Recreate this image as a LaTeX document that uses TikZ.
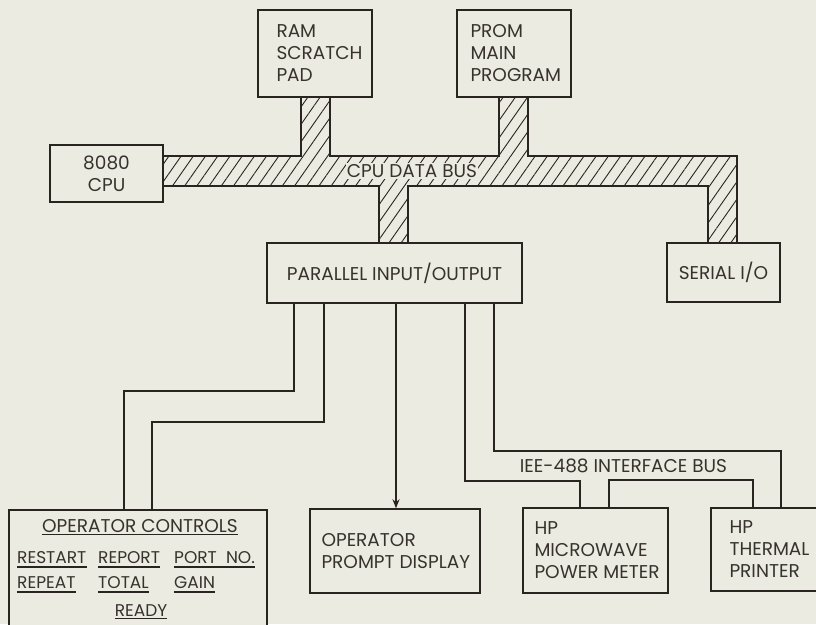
\documentclass[tikz,border=0pt]{standalone}
\usepackage{fontspec}
\setmainfont{Poppins}
\usetikzlibrary{patterns.meta,arrows.meta}
\definecolor{ink}{RGB}{42,36,32}
\definecolor{paper}{RGB}{236,235,225}
\definecolor{txt}{RGB}{55,50,45}
\newcommand\ulword[4]{%
  \node[lbl,sml,anchor=base west] (#1) at (#2,#3) {#4};
  \draw[ulline] ([yshift=-4pt]#1.base west) -- ([yshift=-4pt]#1.base east);}
\newcommand\ulcword[5]{%
  \node[lbl,#5,anchor=base] (#1) at (#2,#3) {#4};
  \draw[ulline] ([yshift=-2.5pt]#1.base west) -- ([yshift=-2.5pt]#1.base east);}
\begin{document}
\begin{tikzpicture}[x=1pt,y=-1pt,
  lbl/.style={text=txt, font=\fontsize{18.5}{22}\selectfont, inner sep=0pt},
  sml/.style={font=\fontsize{17}{22}\selectfont},
  inbox/.style={lbl, align=left, anchor=west},
  box/.style={draw=ink, line width=1.4pt, fill=paper, inner sep=0pt, text=txt,
              font=\fontsize{18.5}{22}\selectfont},
  wire/.style={draw=ink, line width=1.5pt},
  ulline/.style={draw=ink, line width=1.1pt},
  busline/.style={draw=ink, line width=1.8pt, line join=miter},
  hatch/.style={pattern={Lines[angle=55,distance=10pt,line width=0.9pt]}, pattern color=ink},
 ]
\fill[paper] (0,0) rectangle (816,624);
\useasboundingbox (0,0) rectangle (816,624);

% CPU data bus (hatched)
\path[hatch] (163,156) -- (301,156) -- (301,97) -- (330,97) -- (330,156)
  -- (499,156) -- (499,97) -- (528,97) -- (528,156) -- (737,156) -- (737,243)
  -- (708,243) -- (708,186) -- (408,186) -- (408,243) -- (379,243) -- (379,186)
  -- (163,186) -- cycle;
\draw[busline] (163,156) -- (301,156) -- (301,97);
\draw[busline] (330,97) -- (330,156) -- (499,156) -- (499,97);
\draw[busline] (528,97) -- (528,156) -- (737,156) -- (737,243);
\draw[busline] (708,243) -- (708,186) -- (408,186) -- (408,243);
\draw[busline] (379,243) -- (379,186) -- (163,186);
\node[lbl, fill=paper, inner sep=1pt] (busl) at (412,171) {CPU DATA BUS};

% boxes
\node[box, minimum width=114pt, minimum height=87pt] (ram) at (315,53.5) {};
\node[inbox] (ramt) at ([xshift=19pt]ram.west) {RAM\\SCRATCH\\PAD};
\node[box, minimum width=114pt, minimum height=87pt] (prom) at (514,53.5) {};
\node[inbox] (promt) at ([xshift=14pt]prom.west) {PROM\\MAIN\\PROGRAM};
\node[box, minimum width=113pt, minimum height=57pt, align=center]
  (cpu) at (106.5,173.5) {8080\\CPU};
\node[box, minimum width=255pt, minimum height=60pt]
  (pio) at (394.5,273) {PARALLEL INPUT/OUTPUT};
\node[box, minimum width=113pt, minimum height=59pt]
  (serial) at (723.5,272.5) {SERIAL I/O};
\node[box, minimum width=258pt, minimum height=140pt] (oc) at (138,580) {};
\node[box, minimum width=170pt, minimum height=84pt] (prompt) at (395,551) {};
\node[inbox] (promptt) at ([xshift=12pt]prompt.west) {OPERATOR\\PROMPT DISPLAY};
\node[box, minimum width=145pt, minimum height=85pt] (mw) at (595.5,550.5) {};
\node[inbox] (mwt) at ([xshift=12pt]mw.west) {HP\\MICROWAVE\\POWER METER};
\node[box, minimum width=129pt, minimum height=83pt] (thermal) at (775.5,549.5) {};
\node[inbox] (thermalt) at ([xshift=19pt]thermal.west) {HP\\THERMAL\\PRINTER};

% operator controls labels
\ulcword{octitle}{140}{532}{OPERATOR CONTROLS}{}
\ulword{restart}{17}{563}{RESTART}
\ulword{report}{98}{563}{REPORT}
\ulword{portno}{174}{563}{PORT\ \ NO.}
\ulword{repeat}{17}{588}{REPEAT}
\ulword{total}{98}{588}{TOTAL}
\ulword{gain}{174}{588}{GAIN}
\ulcword{ready}{141}{616}{READY}{sml}

% wires
\draw[wire] (pio.south -| 294,0) -- (294,391) -- (124,391) -- (oc.north -| 124,0);
\draw[wire] (pio.south -| 324,0) -- (324,422) -- (152,422) -- (oc.north -| 152,0);
\draw[wire, -{Stealth[length=9pt,width=7pt]}] (pio.south -| 396,0) -- (prompt.north -| 396,0);
\draw[wire] (pio.south -| 465,0) -- (465,481) -- (580,481) -- (mw.north -| 580,0);
\draw[wire] (pio.south -| 494,0) -- (494,451) -- (781,451) -- (thermal.north -| 781,0);
\draw[wire] (mw.north -| 609,0) -- (609,480) -- (753,480) -- (thermal.north -| 753,0);
\node[lbl] (ieel) at (623.5,466) {IEE-488 INTERFACE BUS};
\end{tikzpicture}
\end{document}
